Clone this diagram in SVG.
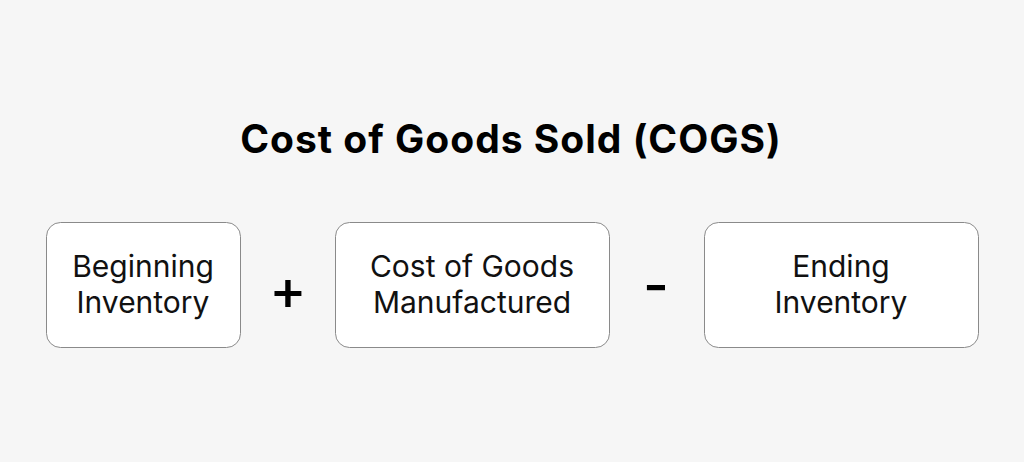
<svg xmlns="http://www.w3.org/2000/svg" width="1024" height="462" viewBox="0 0 1024 462">
<style>
.box{fill:#fff;stroke:#8a8a8a;stroke-width:1}
.lbl{font-family:Inter,"Liberation Sans",sans-serif;font-size:30px;fill:#111;text-anchor:middle}
.title{font-family:Inter,"Liberation Sans",sans-serif;font-size:39px;font-weight:700;fill:#000;text-anchor:middle;letter-spacing:1px}
.op{font-family:Inter,"Liberation Sans",sans-serif;font-size:56px;font-weight:500;fill:#000;text-anchor:middle}
</style>
<rect width="1024" height="462" fill="#f6f6f6"/>
<text class="title" x="511" y="153">Cost of Goods Sold (COGS)</text>
<g id="beginning">
<rect class="box" x="46.5" y="222.5" width="194" height="125" rx="14"/>
<text class="lbl" x="143" y="277">Beginning</text>
<text class="lbl" x="143" y="313">Inventory</text>
</g>
<g id="cogm">
<rect class="box" x="335.5" y="222.5" width="274" height="125" rx="14"/>
<text class="lbl" x="472" y="277">Cost of Goods</text>
<text class="lbl" x="472" y="313">Manufactured</text>
</g>
<g id="ending">
<rect class="box" x="704.5" y="222.5" width="274" height="125" rx="14"/>
<text class="lbl" x="841" y="277">Ending</text>
<text class="lbl" x="841" y="313">Inventory</text>
</g>
<g id="operators">
<text class="op" x="288" y="310">+</text>
<text class="op" x="656" y="305">-</text>
</g>
</svg>
